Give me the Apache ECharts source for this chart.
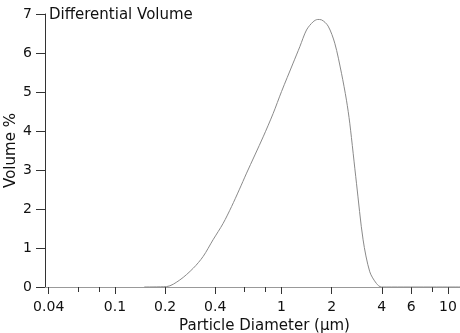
<!DOCTYPE html>
<html>
<head>
<meta charset="utf-8">
<script src="https://cdn.jsdelivr.net/npm/echarts@6/dist/echarts.min.js"></script>
<style>
    html, body { margin: 0; padding: 0; background: #fff; }
    #chart { width: 460px; height: 333px; }
</style>
</head>
<body>
<div id="chart"></div>
<script>
// particle size distribution
var diameters = [0.15, 0.204, 0.245, 0.295, 0.338, 0.388, 0.446, 0.501, 0.557, 0.617, 0.776, 0.891,
    1.0, 1.174, 1.288, 1.413, 1.548, 1.65, 1.738, 1.905, 2.089, 2.292, 2.455, 2.57, 2.82, 3.09,
    3.389, 3.717, 3.98, 12];
var volumes = [0, 0.01, 0.18, 0.48, 0.78, 1.21, 1.63, 2.06, 2.49, 2.92, 3.85, 4.45,
    5.01, 5.74, 6.16, 6.59, 6.8, 6.86, 6.85, 6.69, 6.25, 5.48, 4.79, 4.2, 2.66, 1.21,
    0.39, 0.09, 0, 0];

var majorTicks = [0.04, 0.1, 0.2, 0.4, 1, 2, 4, 6, 10];
var minorTicks = [0.06, 0.08, 0.6, 0.8, 8];

var font = 'DejaVu Sans';

var seriesData = [];
for (var i = 0; i < diameters.length; i++) {
    seriesData.push([diameters[i], volumes[i]]);
}

var option = {
    animation: false,
    backgroundColor: '#fff',
    title: {
        text: 'Differential Volume',
        left: 44,
        top: 3,
        textStyle: {fontFamily: font, fontSize: 15, fontWeight: 'normal', color: '#111'}
    },
    grid: {left: 45, right: 0, top: 14, bottom: 46, outerBoundsMode: 'none'},
    xAxis: [
        {
            type: 'log',
            min: 0.038,
            max: 11.8,
            name: 'Particle Diameter (µm)',
            nameLocation: 'middle',
            nameGap: 32,
            nameMoveOverlap: false,
            nameTextStyle: {fontFamily: font, fontSize: 15, color: '#111', padding: [0, 0, 0, 24]},
            axisLine: {lineStyle: {color: '#999', width: 1}},
            axisTick: {customValues: majorTicks, length: 7, lineStyle: {color: '#333'}},
            axisLabel: {customValues: majorTicks, margin: 13, fontFamily: font, fontSize: 14, color: '#111',
                formatter: function (v) { return String(v); }},
            splitLine: {show: false}
        },
        {
            type: 'log',
            min: 0.038,
            max: 11.8,
            position: 'bottom',
            axisLine: {show: false},
            axisTick: {customValues: minorTicks, length: 5, lineStyle: {color: '#333'}},
            axisLabel: {show: false},
            splitLine: {show: false}
        }
    ],
    yAxis: {
        type: 'value',
        min: 0,
        max: 7,
        interval: 1,
        name: 'Volume %',
        nameLocation: 'middle',
        nameGap: 26,
        nameMoveOverlap: false,
        nameTextStyle: {fontFamily: font, fontSize: 15, color: '#111'},
        axisLine: {show: true, lineStyle: {color: '#333', width: 1}},
        axisTick: {show: true, length: 9, lineStyle: {color: '#333'}},
        axisLabel: {margin: 13, fontFamily: font, fontSize: 14, color: '#111'},
        splitLine: {show: false}
    },
    series: [
        {
            type: 'line',
            data: seriesData,
            showSymbol: false,
            smooth: 0.3,
            lineStyle: {color: '#8a8a8a', width: 1}
        }
    ]
};

var chart = echarts.init(document.getElementById('chart'));
chart.setOption(option);
</script>
</body>
</html>
